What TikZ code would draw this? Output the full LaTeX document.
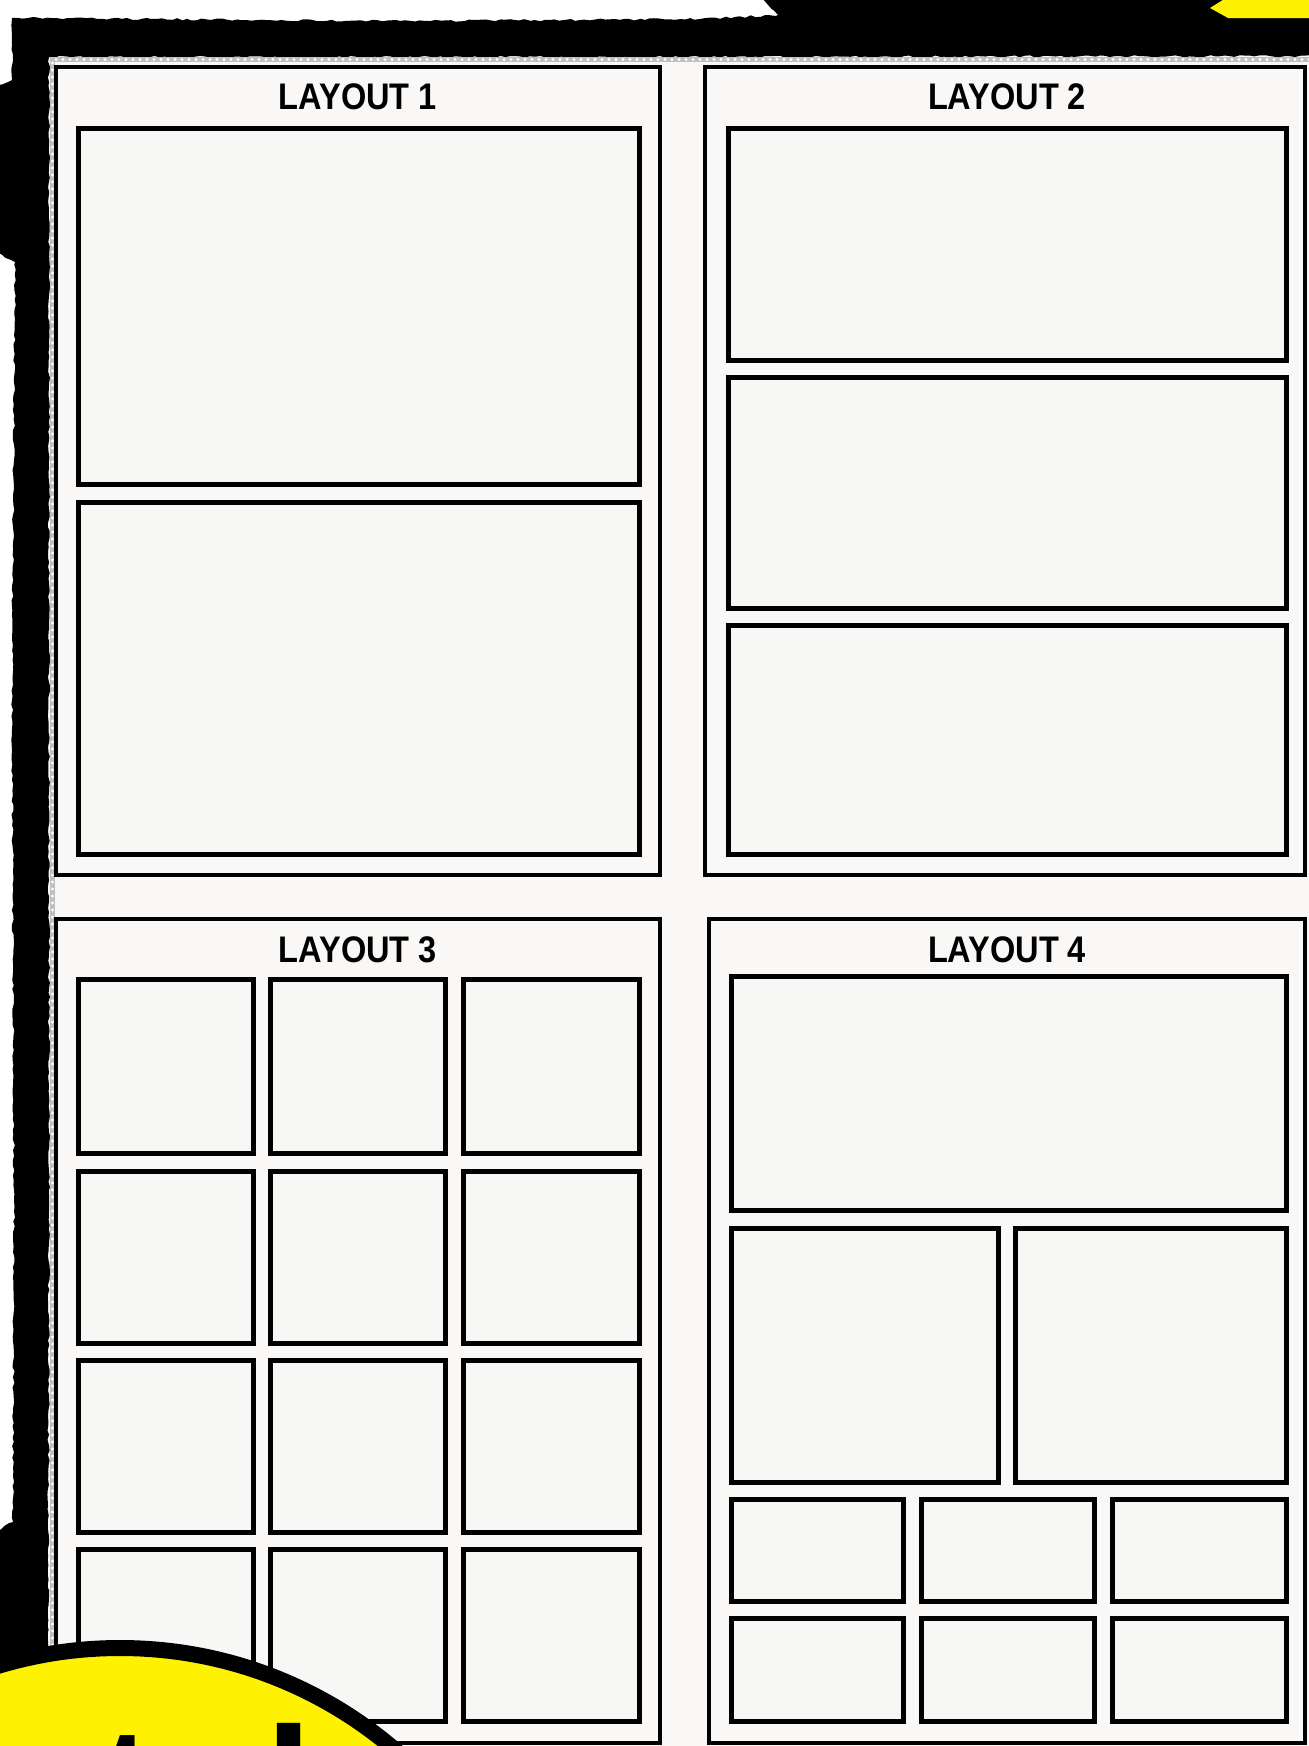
\documentclass[tikz,border=0pt]{standalone}
\usepackage{fontspec}
\usetikzlibrary{decorations.pathmorphing}
\newfontfamily\labfont[FakeStretch=0.88]{Liberation Sans}
\newfontfamily\stickerfont{Liberation Sans}
\definecolor{paper}{RGB}{249,248,246}
\definecolor{panelfill}{RGB}{247,247,246}
\definecolor{stickery}{RGB}{255,242,0}
\tikzset{
  layoutbox/.style={draw=black, line width=4pt, fill=paper},
  panelbox/.style={draw=black, line width=5pt, fill=panelfill},
  layoutlabel/.style={font=\labfont\bfseries\fontsize{37}{37}\selectfont, text=black, inner sep=0pt},
  stickerglyph/.style={font=\stickerfont\bfseries\fontsize{170}{170}\selectfont, text=black, inner sep=0pt, anchor=base west},
  inkframe/.style={fill=black, decorate, decoration={random steps, segment length=5pt, amplitude=1.1pt}},
}
\begin{document}
\begin{tikzpicture}[x=1pt,y=-1pt]
\pgfmathsetseed{7}
\useasboundingbox (0,0) rectangle (1309,1746);
\clip (0,0) rectangle (1309,1746);
% page background
\fill[white] (0,0) rectangle (1309,1746);
\fill[paper] (48,55) rectangle (1309,1746);
% black ink frame
\path[inkframe] (12,18) -- (400,21) -- (700,19) -- (778,15) -- (752,-12) -- (1325,-12)
  -- (1325,56) -- (700,57) -- (49,57) -- (49,1200) -- (48,1725) -- (-12,1725) -- (-12,1535)
  -- (13,1522) -- (14,1200) -- (12,700) -- (15,262) -- (-12,248) -- (-12,88) -- (12,80) -- cycle;
% perforation strip
\draw[gray!50, line width=5pt] (1309,59.5) -- (52.5,59.5) -- (52.5,1720);
\draw[white, line width=3.2pt, dash pattern=on 0pt off 7pt, line cap=round] (1309,59.5) -- (52.5,59.5) -- (52.5,1720);
% yellow patch top right
\fill[stickery] (1226,-2) -- (1210,8) -- (1228,18) -- (1312,18) -- (1312,-2) -- cycle;

% layout frames
\draw[layoutbox] (56,67) rectangle (660,875);
\draw[layoutbox] (705,67) rectangle (1305,875);
\draw[layoutbox] (56,919) rectangle (660,1743);
\draw[layoutbox] (709,919) rectangle (1305,1743);

% labels
\node[layoutlabel] (lab1) at (358,96.5) {LAYOUT 1};
\node[layoutlabel] (lab2) at (1007,96.5) {LAYOUT 2};
\node[layoutlabel] (lab3) at (358,949.5) {LAYOUT 3};
\node[layoutlabel] (lab4) at (1007,949.5) {LAYOUT 4};

% layout 1
\draw[panelbox] (78,128) rectangle (639,484);
\draw[panelbox] (78,502) rectangle (639,854);
% layout 2
\draw[panelbox] (728,128) rectangle (1286,360);
\draw[panelbox] (728,377) rectangle (1286,608);
\draw[panelbox] (728,625) rectangle (1286,854);
% layout 3
\foreach \xa/\xb in {78/253, 270/445, 463/639}{
  \foreach \ya/\yb in {979/1153, 1171/1343, 1360/1532, 1549/1721}{
    \draw[panelbox] (\xa,\ya) rectangle (\xb,\yb);
  }
}
% layout 4
\draw[panelbox] (731,976) rectangle (1286,1210);
\draw[panelbox] (731,1228) rectangle (998,1482);
\draw[panelbox] (1015,1228) rectangle (1286,1482);
\foreach \xa/\xb in {731/903, 921/1094, 1112/1286}{
  \foreach \ya/\yb in {1499/1601, 1618/1721}{
    \draw[panelbox] (\xa,\ya) rectangle (\xb,\yb);
  }
}

% yellow sticker bottom left
\fill[black] (-2,1530) rectangle (48,1750);
\draw[fill=stickery, draw=black, line width=16pt] (120,2070) circle[radius=422];
\node[stickerglyph] (gt) at (98,1846) {t};
\node[stickerglyph] (gl) at (265,1846) {l};
\end{tikzpicture}
\end{document}
